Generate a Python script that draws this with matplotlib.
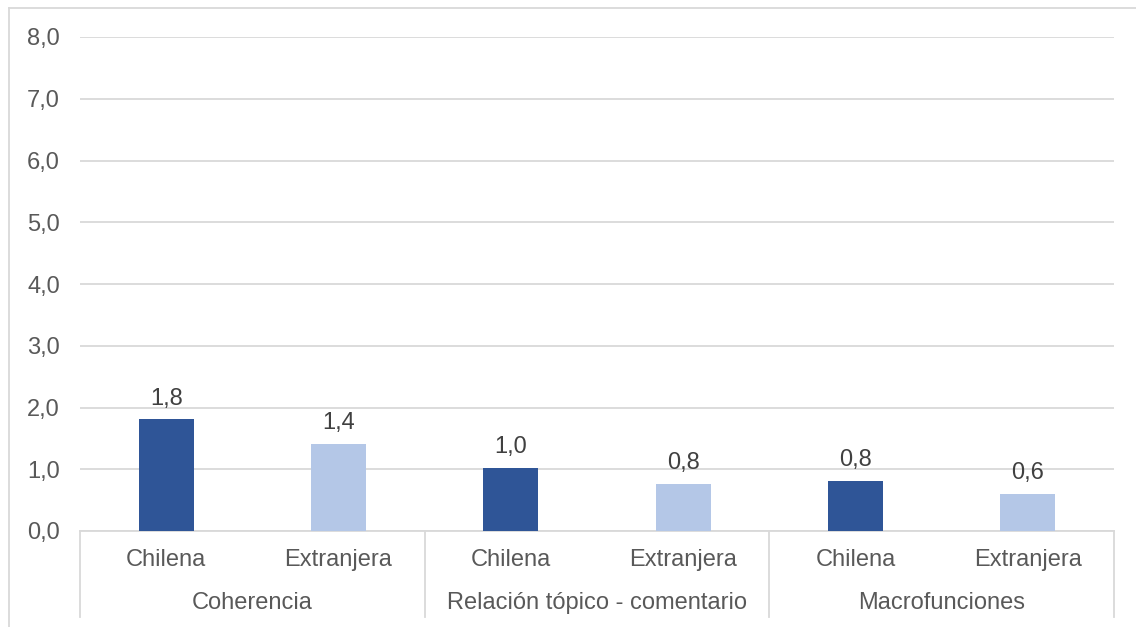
import matplotlib
matplotlib.use("Agg")
import matplotlib.pyplot as plt
from matplotlib.lines import Line2D

# Data
groups = ["Coherencia", "Relación tópico - comentario", "Macrofunciones"]
subcats = ["Chilena", "Extranjera"]
values = [1.81, 1.41, 1.02, 0.76, 0.81, 0.60]
labels = ["1,8", "1,4", "1,0", "0,8", "0,8", "0,6"]
yticks = [0, 1, 2, 3, 4, 5, 6, 7, 8]

dark = "#2F5597"
light = "#B4C7E7"
grid_c = "#D9D9D9"
tick_c = "#595959"
FS = 17

plt.rcParams["font.family"] = ["Liberation Sans", "DejaVu Sans"]

W, H = 1136, 627
fig = plt.figure(figsize=(W / 100, H / 100), dpi=100)
ax = fig.add_axes([80 / W, (H - 531) / H, (1114 - 80) / W, (531 - 37) / H])

n = len(values)
xs = list(range(n))
colors = [dark if i % 2 == 0 else light for i in range(n)]
ax.bar(xs, values, width=0.32, color=colors, zorder=3)

for x, v, lab in zip(xs, values, labels):
    ax.annotate(lab, (x, v), xytext=(0, 10.5), textcoords="offset points",
                ha="center", va="baseline", fontsize=FS, color="#404040")

ax.set_xlim(-0.5, n - 0.5)
ax.set_ylim(0, 8)
ax.set_yticks(yticks)
ax.set_yticklabels([f"{t:.1f}".replace(".", ",") for t in yticks],
                   fontsize=FS, color=tick_c)
ax.tick_params(axis="y", length=0, pad=14.5)
ax.set_xticks([])
ax.yaxis.grid(True, color=grid_c, linewidth=1.3, zorder=0)
ax.set_axisbelow(True)
for s in ["left", "right", "top"]:
    ax.spines[s].set_visible(False)
ax.spines["bottom"].set_color(grid_c)
ax.spines["bottom"].set_linewidth(1.3)

trans = ax.get_xaxis_transform()
for i, x in enumerate(xs):
    ax.text(x, -0.0587, subcats[i % 2], transform=trans, ha="center", va="center",
            fontsize=FS, color=tick_c)
for g, name in enumerate(groups):
    ax.text(2 * g + 0.5, -0.1457, name, transform=trans, ha="center", va="center",
            fontsize=FS, color=tick_c)
for xb in [-0.5, 1.5, 3.5, 5.5]:
    ax.plot([xb, xb], [0, -0.174], transform=trans, color=grid_c, linewidth=1.3,
            clip_on=False)

# chart frame (top and left edges visible)
fig.add_artist(Line2D([9 / W, 1], [1 - 8 / H, 1 - 8 / H], color=grid_c, linewidth=1.3,
                      transform=fig.transFigure))
fig.add_artist(Line2D([9 / W, 9 / W], [0, 1 - 8 / H], color=grid_c, linewidth=1.3,
                      transform=fig.transFigure))

fig.savefig("out.png", dpi=100, facecolor="white")
